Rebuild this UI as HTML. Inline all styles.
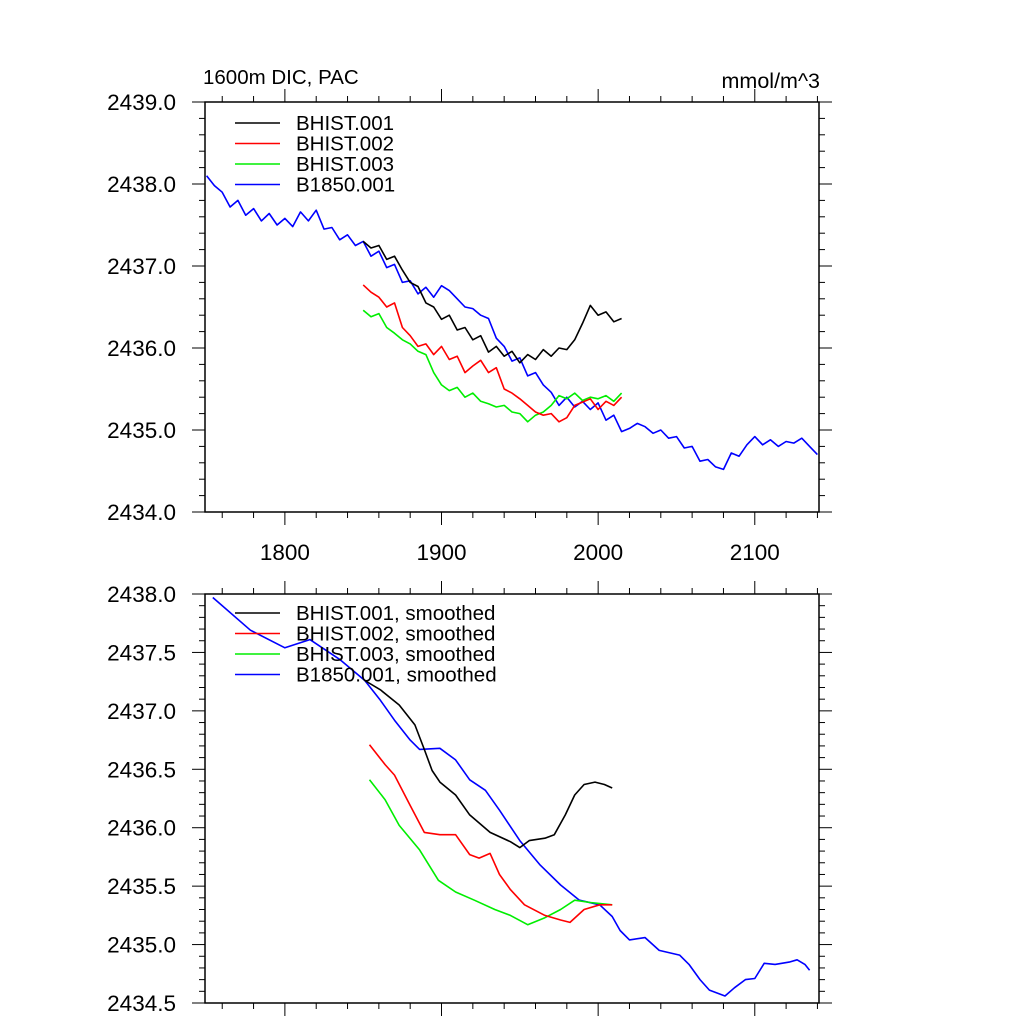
<!DOCTYPE html>
<html><head><meta charset="utf-8"><style>
html,body{margin:0;padding:0;background:#fff;}
svg{display:block;font-family:"Liberation Sans",Arial,sans-serif;}
</style></head><body>
<svg id="chart" width="1024" height="1024" viewBox="0 0 1024 1024"></svg>
<script>
// ---------- data ----------
const blueRaw = [2438.10,2437.98,2437.90,2437.72,2437.80,2437.62,2437.70,2437.55,2437.64,2437.50,2437.58,2437.48,2437.66,2437.55,2437.68,2437.45,2437.47,2437.32,2437.38,2437.25,2437.30,2437.12,2437.18,2436.98,2437.02,2436.80,2436.82,2436.66,2436.74,2436.62,2436.76,2436.70,2436.60,2436.50,2436.48,2436.40,2436.36,2436.12,2436.02,2435.84,2435.88,2435.66,2435.70,2435.55,2435.46,2435.30,2435.40,2435.28,2435.35,2435.25,2435.33,2435.12,2435.18,2434.98,2435.02,2435.08,2435.04,2434.96,2435.00,2434.90,2434.92,2434.78,2434.80,2434.62,2434.64,2434.55,2434.52,2434.72,2434.68,2434.82,2434.92,2434.82,2434.88,2434.80,2434.86,2434.84,2434.90,2434.80,2434.70];
const blackRaw = [2437.30,2437.22,2437.25,2437.08,2437.12,2436.95,2436.80,2436.75,2436.55,2436.50,2436.35,2436.40,2436.22,2436.25,2436.10,2436.15,2435.95,2436.02,2435.90,2435.96,2435.82,2435.92,2435.86,2435.98,2435.90,2436.00,2435.98,2436.10,2436.30,2436.52,2436.40,2436.44,2436.32,2436.36];
const redRaw = [2436.77,2436.68,2436.62,2436.50,2436.55,2436.25,2436.15,2436.02,2436.05,2435.92,2436.02,2435.86,2435.90,2435.70,2435.78,2435.85,2435.70,2435.76,2435.50,2435.45,2435.38,2435.30,2435.22,2435.18,2435.20,2435.10,2435.15,2435.30,2435.34,2435.38,2435.25,2435.35,2435.30,2435.40];
const greenRaw = [2436.46,2436.38,2436.42,2436.25,2436.18,2436.10,2436.05,2435.96,2435.92,2435.70,2435.55,2435.48,2435.52,2435.40,2435.45,2435.35,2435.32,2435.28,2435.30,2435.22,2435.20,2435.10,2435.18,2435.22,2435.30,2435.42,2435.38,2435.45,2435.36,2435.40,2435.38,2435.42,2435.35,2435.45];
const blueStart = 1750, histStart = 1850, rawStep = 5;

const blueSmYears = [1754,1778,1800,1816,1835,1851,1861,1870,1880,1886,1899,1909,1918,1928,1937,1950,1963,1976,1988,2001,2009,2014,2020,2030,2039,2052,2058,2065,2071,2081,2087,2094,2100,2106,2113,2122,2127,2132,2135];
const blueSm = [2437.97,2437.69,2437.54,2437.61,2437.44,2437.26,2437.09,2436.92,2436.75,2436.67,2436.68,2436.58,2436.41,2436.32,2436.15,2435.89,2435.68,2435.51,2435.38,2435.34,2435.24,2435.12,2435.04,2435.06,2434.95,2434.91,2434.83,2434.70,2434.61,2434.56,2434.63,2434.70,2434.71,2434.84,2434.83,2434.85,2434.87,2434.83,2434.78];
const blackSmYears = [1851,1861,1873,1883,1889,1894,1899,1909,1918,1931,1944,1950,1956,1966,1972,1979,1985,1991,1998,2004,2009];
const blackSm = [2437.26,2437.18,2437.05,2436.88,2436.67,2436.49,2436.39,2436.28,2436.11,2435.96,2435.88,2435.83,2435.89,2435.91,2435.94,2436.11,2436.28,2436.37,2436.39,2436.37,2436.34];
const redSmYears = [1854,1864,1870,1880,1889,1899,1909,1918,1924,1931,1937,1944,1953,1966,1976,1982,1991,2001,2009];
const redSm = [2436.71,2436.54,2436.45,2436.19,2435.96,2435.94,2435.94,2435.77,2435.74,2435.78,2435.60,2435.47,2435.34,2435.25,2435.21,2435.19,2435.30,2435.34,2435.34];
const greenSmYears = [1854,1864,1873,1886,1898,1909,1921,1934,1944,1955,1966,1976,1985,1995,2009];
const greenSm = [2436.41,2436.24,2436.02,2435.81,2435.55,2435.45,2435.38,2435.30,2435.25,2435.17,2435.23,2435.30,2435.38,2435.36,2435.34];

const topYTicks = ["2434.0","2435.0","2436.0","2437.0","2438.0","2439.0"];
const botYTicks = ["2434.5","2435.0","2435.5","2436.0","2436.5","2437.0","2437.5","2438.0"];
const xTickLabels = ["1800","1900","2000","2100"];
const legendTop = ["BHIST.001","BHIST.002","BHIST.003","B1850.001"];
const legendBot = ["BHIST.001, smoothed","BHIST.002, smoothed","BHIST.003, smoothed","B1850.001, smoothed"];
const colors = ["#000000","#ff0000","#00ee00","#0000ff"];

// ---------- drawing ----------
const NS="http://www.w3.org/2000/svg";
const svg=document.getElementById('chart');
function mk(tag,attrs,parent){const e=document.createElementNS(NS,tag);for(const k in attrs)e.setAttribute(k,attrs[k]);(parent||svg).appendChild(e);return e;}
const X0=205,X1=819,XMIN=1749,XMAX=2141;
const xs=v=>X0+(v-XMIN)/(XMAX-XMIN)*(X1-X0);

function panel(name,Y0,Y1,ymin,ymax,yLabels,minorStep,showX){
  const g=mk('g',{});
  
  
  const ys=v=>Y1-(v-ymin)/(ymax-ymin)*(Y1-Y0);
  const frame=mk('rect',{x:X0,y:Y0,width:X1-X0,height:Y1-Y0,fill:'none',stroke:'#000','stroke-width':1.5},g);
  
  
  const ax=mk('g',{stroke:'#000','stroke-width':1},g);
  
  
  const nMinor=Math.round((ymax-ymin)/minorStep);
  for(let i=0;i<=nMinor;i++){
    const v=ymin+i*minorStep, y=ys(v);
    const major=(i%5===0);const L=major?13:6;
    mk('line',{x1:X0-L,y1:y,x2:X0,y2:y},ax);
    mk('line',{x1:X1,y1:y,x2:X1+L,y2:y},ax);
  }
  yLabels.forEach(s=>{
    const t=mk('text',{x:176,y:ys(parseFloat(s))+8,'text-anchor':'end','font-size':22.5,fill:'#000'},g);
    t.textContent=s;
    
    
  });
  const xa=mk('g',{stroke:'#000','stroke-width':1},g);
  
  
  for(let yr=1760;yr<=2140;yr+=20){
    const x=xs(yr);const L=(yr%100===0)?13:6;
    mk('line',{x1:x,y1:Y1,x2:x,y2:Y1+L},xa);
    mk('line',{x1:x,y1:Y0-L,x2:x,y2:Y0},xa);
  }
  if(showX){xTickLabels.forEach(s=>{
    const t=mk('text',{x:xs(parseFloat(s)),y:Y1+48,'text-anchor':'middle','font-size':22.5,fill:'#000'},g);
    t.textContent=s;
    
    
  });}
  return {g:g,ys:ys};
}
function line(g,ys,years,vals,color,name){
  const d=vals.map((v,i)=>(i?'L':'M')+xs(years[i]).toFixed(1)+','+ys(v).toFixed(1)).join('');
  const p=mk('path',{d:d,fill:'none',stroke:color,'stroke-width':1.6,'stroke-linejoin':'round'},g);
  
  
}
function legend(g,labels,y0,dy,name){
  const lg=mk('g',{},g);
  
  
  labels.forEach((s,i)=>{
    const y=y0+i*dy;
    mk('line',{x1:235,y1:y,x2:280,y2:y,stroke:colors[i],'stroke-width':1.5},lg);
    const t=mk('text',{x:296,y:y+7,'font-size':20.5,fill:'#000'},lg);
    t.textContent=s;
    
    
  });
}
const yrs=(start,n)=>Array.from({length:n},(_,i)=>start+i*rawStep);

const topP=panel('top-panel',102,512,2434,2439,topYTicks,0.2,true);
line(topP.g,topP.ys,yrs(blueStart,blueRaw.length),blueRaw,colors[3],'b1850-001-line');
line(topP.g,topP.ys,yrs(histStart,greenRaw.length),greenRaw,colors[2],'bhist-003-line');
line(topP.g,topP.ys,yrs(histStart,redRaw.length),redRaw,colors[1],'bhist-002-line');
line(topP.g,topP.ys,yrs(histStart,blackRaw.length),blackRaw,colors[0],'bhist-001-line');
legend(topP.g,legendTop,123,20.5,'top-legend');

const botP=panel('bottom-panel',594,1003,2434.5,2438,botYTicks,0.1,false);
line(botP.g,botP.ys,blueSmYears,blueSm,colors[3],'b1850-001-smoothed-line');
line(botP.g,botP.ys,greenSmYears,greenSm,colors[2],'bhist-003-smoothed-line');
line(botP.g,botP.ys,redSmYears,redSm,colors[1],'bhist-002-smoothed-line');
line(botP.g,botP.ys,blackSmYears,blackSm,colors[0],'bhist-001-smoothed-line');
legend(botP.g,legendBot,613,20.5,'bottom-legend');

const t1=mk('text',{x:203,y:84,'font-size':20.5,fill:'#000'});t1.textContent='1600m DIC, PAC';


const t2=mk('text',{x:820,y:88,'font-size':21.5,fill:'#000','text-anchor':'end'});t2.textContent='mmol/m^3';


</script>
</body></html>
